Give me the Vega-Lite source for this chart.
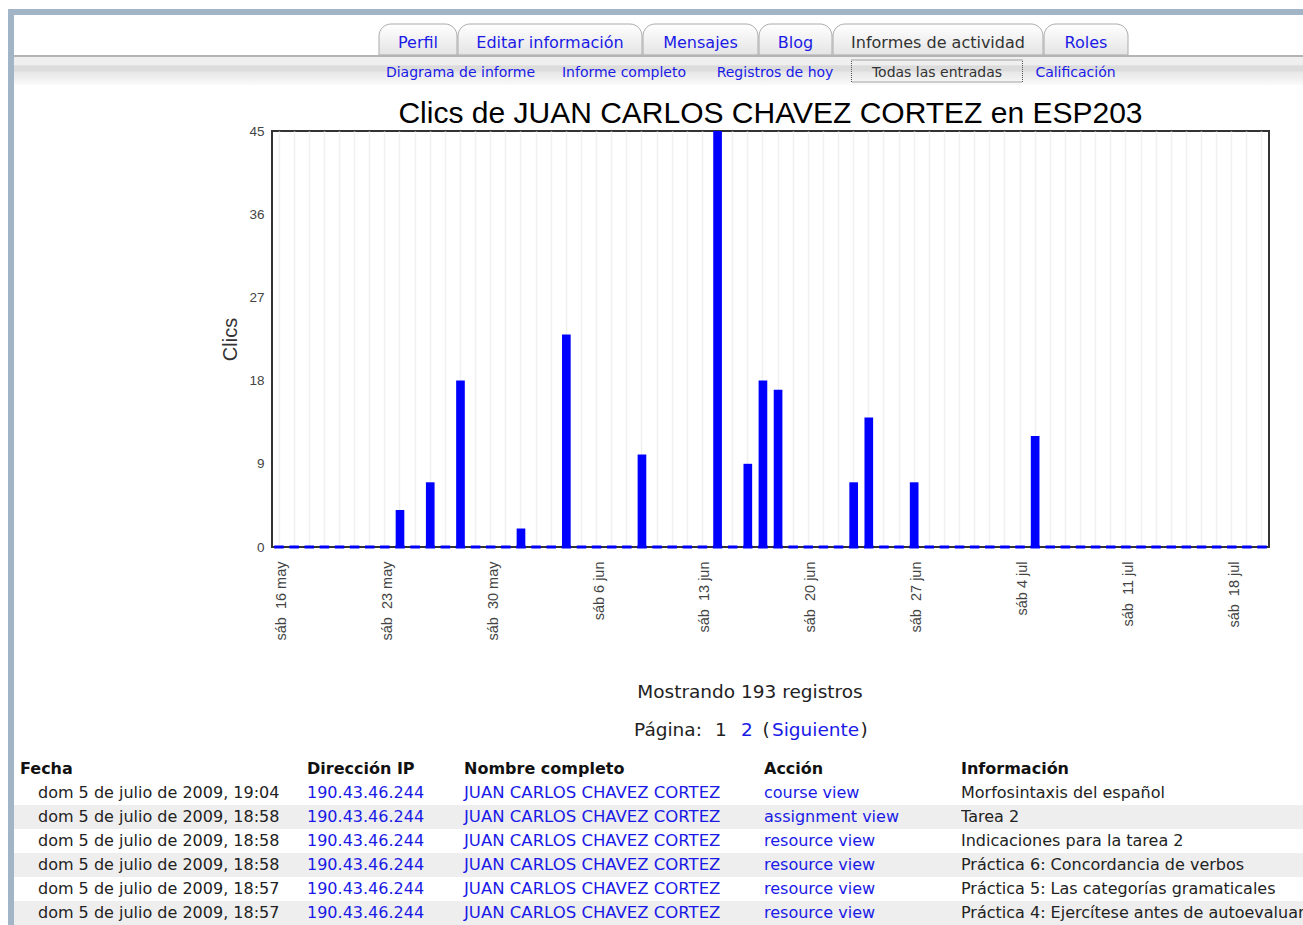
{
  "$schema": "https://vega.github.io/schema/vega-lite/v6.json",
  "padding": {"left": 8, "top": 9, "right": 0, "bottom": 0},
  "background": "white",
  "config": {"view": {"stroke": null}, "concat": {"spacing": 0}, "font": "DejaVu Sans"},
  "datasets": {
    "clics": [
      {"dia": "2009-05-16", "clics": 0}, {"dia": "2009-05-17", "clics": 0}, {"dia": "2009-05-18", "clics": 0}, {"dia": "2009-05-19", "clics": 0},
      {"dia": "2009-05-20", "clics": 0}, {"dia": "2009-05-21", "clics": 0}, {"dia": "2009-05-22", "clics": 0}, {"dia": "2009-05-23", "clics": 0},
      {"dia": "2009-05-24", "clics": 4}, {"dia": "2009-05-25", "clics": 0}, {"dia": "2009-05-26", "clics": 7}, {"dia": "2009-05-27", "clics": 0},
      {"dia": "2009-05-28", "clics": 18}, {"dia": "2009-05-29", "clics": 0}, {"dia": "2009-05-30", "clics": 0}, {"dia": "2009-05-31", "clics": 0},
      {"dia": "2009-06-01", "clics": 2}, {"dia": "2009-06-02", "clics": 0}, {"dia": "2009-06-03", "clics": 0}, {"dia": "2009-06-04", "clics": 23},
      {"dia": "2009-06-05", "clics": 0}, {"dia": "2009-06-06", "clics": 0}, {"dia": "2009-06-07", "clics": 0}, {"dia": "2009-06-08", "clics": 0},
      {"dia": "2009-06-09", "clics": 10}, {"dia": "2009-06-10", "clics": 0}, {"dia": "2009-06-11", "clics": 0}, {"dia": "2009-06-12", "clics": 0},
      {"dia": "2009-06-13", "clics": 0}, {"dia": "2009-06-14", "clics": 45}, {"dia": "2009-06-15", "clics": 0}, {"dia": "2009-06-16", "clics": 9},
      {"dia": "2009-06-17", "clics": 18}, {"dia": "2009-06-18", "clics": 17}, {"dia": "2009-06-19", "clics": 0}, {"dia": "2009-06-20", "clics": 0},
      {"dia": "2009-06-21", "clics": 0}, {"dia": "2009-06-22", "clics": 0}, {"dia": "2009-06-23", "clics": 7}, {"dia": "2009-06-24", "clics": 14},
      {"dia": "2009-06-25", "clics": 0}, {"dia": "2009-06-26", "clics": 0}, {"dia": "2009-06-27", "clics": 7}, {"dia": "2009-06-28", "clics": 0},
      {"dia": "2009-06-29", "clics": 0}, {"dia": "2009-06-30", "clics": 0}, {"dia": "2009-07-01", "clics": 0}, {"dia": "2009-07-02", "clics": 0},
      {"dia": "2009-07-03", "clics": 0}, {"dia": "2009-07-04", "clics": 0}, {"dia": "2009-07-05", "clics": 12}, {"dia": "2009-07-06", "clics": 0},
      {"dia": "2009-07-07", "clics": 0}, {"dia": "2009-07-08", "clics": 0}, {"dia": "2009-07-09", "clics": 0}, {"dia": "2009-07-10", "clics": 0},
      {"dia": "2009-07-11", "clics": 0}, {"dia": "2009-07-12", "clics": 0}, {"dia": "2009-07-13", "clics": 0}, {"dia": "2009-07-14", "clics": 0},
      {"dia": "2009-07-15", "clics": 0}, {"dia": "2009-07-16", "clics": 0}, {"dia": "2009-07-17", "clics": 0}, {"dia": "2009-07-18", "clics": 0},
      {"dia": "2009-07-19", "clics": 0}, {"dia": "2009-07-20", "clics": 0}
    ],
    "registros": [
      {"fila": 1, "fecha": "dom 5 de julio de 2009, 19:04", "ip": "190.43.46.244", "nombre": "JUAN CARLOS CHAVEZ CORTEZ", "accion": "course view", "info": "Morfosintaxis del español"},
      {"fila": 2, "fecha": "dom 5 de julio de 2009, 18:58", "ip": "190.43.46.244", "nombre": "JUAN CARLOS CHAVEZ CORTEZ", "accion": "assignment view", "info": "Tarea 2"},
      {"fila": 3, "fecha": "dom 5 de julio de 2009, 18:58", "ip": "190.43.46.244", "nombre": "JUAN CARLOS CHAVEZ CORTEZ", "accion": "resource view", "info": "Indicaciones para la tarea 2"},
      {"fila": 4, "fecha": "dom 5 de julio de 2009, 18:58", "ip": "190.43.46.244", "nombre": "JUAN CARLOS CHAVEZ CORTEZ", "accion": "resource view", "info": "Práctica 6: Concordancia de verbos"},
      {"fila": 5, "fecha": "dom 5 de julio de 2009, 18:57", "ip": "190.43.46.244", "nombre": "JUAN CARLOS CHAVEZ CORTEZ", "accion": "resource view", "info": "Práctica 5: Las categorías gramaticales"},
      {"fila": 6, "fecha": "dom 5 de julio de 2009, 18:57", "ip": "190.43.46.244", "nombre": "JUAN CARLOS CHAVEZ CORTEZ", "accion": "resource view", "info": "Práctica 4: Ejercítese antes de autoevaluarte"}
    ]
  },
  "spacing": 0,
  "bounds": "flush",
  "hconcat": [
    {"width": 6, "height": 916, "data": {"values": [{"marco": "borde"}]}, "mark": {"type": "rect", "color": "#a2b5c6"}, "encoding": {}},
    {
      "spacing": 0,
      "bounds": "flush",
      "vconcat": [
        {"width": 1289, "height": 6, "data": {"values": [{"marco": "borde"}]}, "mark": {"type": "rect", "color": "#a2b5c6"}, "encoding": {}},
        {"width": 1289, "height": 9, "data": {"values": [{"t": ""}]}, "mark": "text", "encoding": {"text": {"value": ""}}},
        {
          "spacing": 1,
          "bounds": "flush",
          "hconcat": [
            {"width": 364, "height": 31, "data": {"values": [{"t": ""}]}, "mark": "text", "encoding": {"text": {"value": ""}}},
            {"width": 78, "height": 31, "data": {"values": [{"pestana": "Perfil"}]},
             "layer": [
               {"mark": {"type": "rect", "fill": {"gradient": "linear", "x1": 0, "y1": 0, "x2": 0, "y2": 1, "stops": [{"offset": 0, "color": "#ffffff"}, {"offset": 1, "color": "#e4e4e4"}]}, "stroke": "#aaaaaa", "strokeWidth": 1, "cornerRadiusTopLeft": 12, "cornerRadiusTopRight": 12}, "encoding": {}},
               {"mark": {"type": "text", "font": "DejaVu Sans", "fontSize": 16, "color": "#1a1ae6", "dy": 3}, "encoding": {"text": {"field": "pestana"}}}
             ]},
            {"width": 184, "height": 31, "data": {"values": [{"pestana": "Editar información"}]},
             "layer": [
               {"mark": {"type": "rect", "fill": {"gradient": "linear", "x1": 0, "y1": 0, "x2": 0, "y2": 1, "stops": [{"offset": 0, "color": "#ffffff"}, {"offset": 1, "color": "#e4e4e4"}]}, "stroke": "#aaaaaa", "strokeWidth": 1, "cornerRadiusTopLeft": 12, "cornerRadiusTopRight": 12}, "encoding": {}},
               {"mark": {"type": "text", "font": "DejaVu Sans", "fontSize": 16, "color": "#1a1ae6", "dy": 3}, "encoding": {"text": {"field": "pestana"}}}
             ]},
            {"width": 115, "height": 31, "data": {"values": [{"pestana": "Mensajes"}]},
             "layer": [
               {"mark": {"type": "rect", "fill": {"gradient": "linear", "x1": 0, "y1": 0, "x2": 0, "y2": 1, "stops": [{"offset": 0, "color": "#ffffff"}, {"offset": 1, "color": "#e4e4e4"}]}, "stroke": "#aaaaaa", "strokeWidth": 1, "cornerRadiusTopLeft": 12, "cornerRadiusTopRight": 12}, "encoding": {}},
               {"mark": {"type": "text", "font": "DejaVu Sans", "fontSize": 16, "color": "#1a1ae6", "dy": 3}, "encoding": {"text": {"field": "pestana"}}}
             ]},
            {"width": 73, "height": 31, "data": {"values": [{"pestana": "Blog"}]},
             "layer": [
               {"mark": {"type": "rect", "fill": {"gradient": "linear", "x1": 0, "y1": 0, "x2": 0, "y2": 1, "stops": [{"offset": 0, "color": "#ffffff"}, {"offset": 1, "color": "#e4e4e4"}]}, "stroke": "#aaaaaa", "strokeWidth": 1, "cornerRadiusTopLeft": 12, "cornerRadiusTopRight": 12}, "encoding": {}},
               {"mark": {"type": "text", "font": "DejaVu Sans", "fontSize": 16, "color": "#1a1ae6", "dy": 3}, "encoding": {"text": {"field": "pestana"}}}
             ]},
            {"width": 210, "height": 31, "data": {"values": [{"pestana": "Informes de actividad"}]},
             "layer": [
               {"mark": {"type": "rect", "fill": {"gradient": "linear", "x1": 0, "y1": 0, "x2": 0, "y2": 1, "stops": [{"offset": 0, "color": "#ffffff"}, {"offset": 1, "color": "#e4e4e4"}]}, "stroke": "#aaaaaa", "strokeWidth": 1, "cornerRadiusTopLeft": 12, "cornerRadiusTopRight": 12}, "encoding": {}},
               {"mark": {"type": "text", "font": "DejaVu Sans", "fontSize": 16, "color": "#333333", "dy": 3}, "encoding": {"text": {"field": "pestana"}}}
             ]},
            {"width": 84, "height": 31, "data": {"values": [{"pestana": "Roles"}]},
             "layer": [
               {"mark": {"type": "rect", "fill": {"gradient": "linear", "x1": 0, "y1": 0, "x2": 0, "y2": 1, "stops": [{"offset": 0, "color": "#ffffff"}, {"offset": 1, "color": "#e4e4e4"}]}, "stroke": "#aaaaaa", "strokeWidth": 1, "cornerRadiusTopLeft": 12, "cornerRadiusTopRight": 12}, "encoding": {}},
               {"mark": {"type": "text", "font": "DejaVu Sans", "fontSize": 16, "color": "#1a1ae6", "dy": 3}, "encoding": {"text": {"field": "pestana"}}}
             ]}
          ]
        },
        {"width": 1289, "height": 31, "data": {"values": [{"t": ""}]}, "mark": "text", "encoding": {"text": {"value": ""}}},
        {"width": 1289, "height": 2, "data": {"values": [{"linea": "borde"}]}, "mark": {"type": "rect", "color": "#b4b4b4"}, "encoding": {}},
        {
          "spacing": 0,
          "bounds": "flush",
          "hconcat": [
            {"width": 364, "height": 28, "data": {"values": [{"sub": ""}]},
             "mark": {"type": "rect", "fill": {"gradient": "linear", "x1": 0, "y1": 0, "x2": 0, "y2": 1, "stops": [{"offset": 0, "color": "#efefef"}, {"offset": 0.27, "color": "#efefef"}, {"offset": 0.32, "color": "#dcdcdc"}, {"offset": 0.48, "color": "#dcdcdc"}, {"offset": 0.55, "color": "#e8e8e8"}, {"offset": 0.75, "color": "#efefef"}, {"offset": 1, "color": "#fbfbfb"}]}}, "encoding": {}},
            {"width": 165, "height": 28, "data": {"values": [{"sub": "Diagrama de informe"}]},
             "layer": [
               {"mark": {"type": "rect", "fill": {"gradient": "linear", "x1": 0, "y1": 0, "x2": 0, "y2": 1, "stops": [{"offset": 0, "color": "#efefef"}, {"offset": 0.27, "color": "#efefef"}, {"offset": 0.32, "color": "#dcdcdc"}, {"offset": 0.48, "color": "#dcdcdc"}, {"offset": 0.55, "color": "#e8e8e8"}, {"offset": 0.75, "color": "#efefef"}, {"offset": 1, "color": "#fbfbfb"}]}}, "encoding": {}},
               {"mark": {"type": "text", "font": "DejaVu Sans", "fontSize": 14, "color": "#1a1ae6", "dy": 2}, "encoding": {"text": {"field": "sub"}}}
             ]},
            {"width": 162, "height": 28, "data": {"values": [{"sub": "Informe completo"}]},
             "layer": [
               {"mark": {"type": "rect", "fill": {"gradient": "linear", "x1": 0, "y1": 0, "x2": 0, "y2": 1, "stops": [{"offset": 0, "color": "#efefef"}, {"offset": 0.27, "color": "#efefef"}, {"offset": 0.32, "color": "#dcdcdc"}, {"offset": 0.48, "color": "#dcdcdc"}, {"offset": 0.55, "color": "#e8e8e8"}, {"offset": 0.75, "color": "#efefef"}, {"offset": 1, "color": "#fbfbfb"}]}}, "encoding": {}},
               {"mark": {"type": "text", "font": "DejaVu Sans", "fontSize": 14, "color": "#1a1ae6", "dy": 2}, "encoding": {"text": {"field": "sub"}}}
             ]},
            {"width": 140, "height": 28, "data": {"values": [{"sub": "Registros de hoy"}]},
             "layer": [
               {"mark": {"type": "rect", "fill": {"gradient": "linear", "x1": 0, "y1": 0, "x2": 0, "y2": 1, "stops": [{"offset": 0, "color": "#efefef"}, {"offset": 0.27, "color": "#efefef"}, {"offset": 0.32, "color": "#dcdcdc"}, {"offset": 0.48, "color": "#dcdcdc"}, {"offset": 0.55, "color": "#e8e8e8"}, {"offset": 0.75, "color": "#efefef"}, {"offset": 1, "color": "#fbfbfb"}]}}, "encoding": {}},
               {"mark": {"type": "text", "font": "DejaVu Sans", "fontSize": 14, "color": "#1a1ae6", "dy": 2}, "encoding": {"text": {"field": "sub"}}}
             ]},
            {"width": 184, "height": 28, "data": {"values": [{"sub": "Todas las entradas"}]},
             "layer": [
               {"mark": {"type": "rect", "fill": {"gradient": "linear", "x1": 0, "y1": 0, "x2": 0, "y2": 1, "stops": [{"offset": 0, "color": "#efefef"}, {"offset": 0.27, "color": "#efefef"}, {"offset": 0.32, "color": "#dcdcdc"}, {"offset": 0.48, "color": "#dcdcdc"}, {"offset": 0.55, "color": "#e8e8e8"}, {"offset": 0.75, "color": "#efefef"}, {"offset": 1, "color": "#fbfbfb"}]}}, "encoding": {}},
               {"mark": {"type": "rect", "fill": null, "stroke": "#555555", "strokeWidth": 1, "strokeDash": [1, 1]},
                "encoding": {
                  "x": {"datum": "caja", "type": "nominal", "scale": {"paddingInner": 0, "paddingOuter": 0.038}, "axis": null},
                  "y": {"datum": "caja", "type": "nominal", "scale": {"paddingInner": 0, "paddingOuter": 0.136}, "axis": null}
                }},
               {"mark": {"type": "text", "font": "DejaVu Sans", "fontSize": 14, "color": "#333333", "dy": 2}, "encoding": {"text": {"field": "sub"}}}
             ]},
            {"width": 93, "height": 28, "data": {"values": [{"sub": "Calificación"}]},
             "layer": [
               {"mark": {"type": "rect", "fill": {"gradient": "linear", "x1": 0, "y1": 0, "x2": 0, "y2": 1, "stops": [{"offset": 0, "color": "#efefef"}, {"offset": 0.27, "color": "#efefef"}, {"offset": 0.32, "color": "#dcdcdc"}, {"offset": 0.48, "color": "#dcdcdc"}, {"offset": 0.55, "color": "#e8e8e8"}, {"offset": 0.75, "color": "#efefef"}, {"offset": 1, "color": "#fbfbfb"}]}}, "encoding": {}},
               {"mark": {"type": "text", "font": "DejaVu Sans", "fontSize": 14, "color": "#1a1ae6", "dy": 2}, "encoding": {"text": {"field": "sub"}}}
             ]},
            {"width": 181, "height": 28, "data": {"values": [{"sub": ""}]},
             "mark": {"type": "rect", "fill": {"gradient": "linear", "x1": 0, "y1": 0, "x2": 0, "y2": 1, "stops": [{"offset": 0, "color": "#efefef"}, {"offset": 0.27, "color": "#efefef"}, {"offset": 0.32, "color": "#dcdcdc"}, {"offset": 0.48, "color": "#dcdcdc"}, {"offset": 0.55, "color": "#e8e8e8"}, {"offset": 0.75, "color": "#efefef"}, {"offset": 1, "color": "#fbfbfb"}]}}, "encoding": {}}
          ]
        },
        {"width": 1289, "height": 74, "data": {"values": [{"t": ""}]}, "mark": "text", "encoding": {"text": {"value": ""}}},
        {
          "spacing": 0,
          "bounds": "flush",
          "hconcat": [
            {"width": 258, "height": 416, "data": {"values": [{"t": ""}]}, "mark": "text", "encoding": {"text": {"value": ""}}},
            {
              "width": 997,
              "height": 416,
              "data": {"name": "clics"},
              "view": {"stroke": "#333333", "strokeWidth": 2},
              "title": {"text": "Clics de JUAN CARLOS CHAVEZ CORTEZ en ESP203", "font": "Liberation Sans", "fontSize": 30, "fontWeight": "normal", "color": "#000000", "anchor": "middle", "baseline": "alphabetic", "offset": -29},
              "encoding": {
                "x": {
                  "field": "dia", "type": "ordinal", "title": null,
                  "scale": {"paddingInner": 0.427, "paddingOuter": 0.177},
                  "axis": {
                    "labelAngle": -90,
                    "labelExpr": "utcday(toDate(datum.value)) == 6 ? 'sáb' + (utcdate(toDate(datum.value)) > 9 ? '\u00a0\u00a0' : ' ') + utcdate(toDate(datum.value)) + ' ' + ['ene','feb','mar','abr','may','jun','jul','ago','sep','oct','nov','dic'][utcmonth(toDate(datum.value))] : ''",
                    "labelFont": "Liberation Sans", "labelFontSize": 14.5, "labelColor": "#444444",
                    "labelPadding": 14, "labelOffset": 3, "ticks": false, "tickSize": 0, "domain": false,
                    "grid": true, "gridColor": "#f0f0f0", "gridWidth": 1.5, "bandPosition": 0.5,
                    "labelOverlap": false, "labelBound": false
                  }
                }
              },
              "layer": [
                {"mark": {"type": "tick", "color": "#0000ff", "thickness": 3, "size": 9.5, "opacity": 1},
                 "encoding": {"y": {"datum": 0, "type": "quantitative", "title": "Clics"}}},
                {"mark": {"type": "bar", "color": "#0000ff", "opacity": 1},
                 "encoding": {"y": {"field": "clics", "type": "quantitative", "title": "Clics",
                   "scale": {"domain": [0, 45], "nice": false},
                   "axis": {"values": [0, 9, 18, 27, 36, 45], "titleFont": "Liberation Sans", "titleFontSize": 20, "titleFontWeight": "normal", "titleColor": "#333333", "titlePadding": 8,
                     "labelFont": "Liberation Sans", "labelFontSize": 13.5, "labelColor": "#444444", "labelPadding": 8, "ticks": false, "tickSize": 0, "domain": false,
                     "gridColor": "#f0f0f0", "gridWidth": 1.5}}}}
              ]
            }
          ]
        },
        {"width": 1289, "height": 545, "data": {"values": [{"t": ""}]}, "mark": "text", "encoding": {"text": {"value": ""}}},
        {
          "spacing": 0,
          "bounds": "flush",
          "hconcat": [
            {"width": 558, "height": 30, "data": {"values": [{"t": ""}]}, "mark": "text", "encoding": {"text": {"value": ""}}},
            {"width": 356, "height": 30, "data": {"values": [{"texto": "Mostrando 193 registros"}]}, "mark": {"type": "text", "font": "DejaVu Sans", "fontSize": 18.5, "color": "#222222", "dy": 1}, "encoding": {"text": {"field": "texto"}}}
          ]
        },
        {"width": 1289, "height": 38, "data": {"values": [{"t": ""}]}, "mark": "text", "encoding": {"text": {"value": ""}}},
        {
          "spacing": 0,
          "bounds": "flush",
          "hconcat": [
            {"width": 616, "height": 30, "data": {"values": [{"t": ""}]}, "mark": "text", "encoding": {"text": {"value": ""}}},
            {"width": 76, "height": 30, "data": {"values": [{"texto": "Página:"}]}, "mark": {"type": "text", "font": "DejaVu Sans", "fontSize": 18.5, "color": "#222222", "dy": 1}, "encoding": {"text": {"field": "texto"}}},
            {"width": 30, "height": 30, "data": {"values": [{"texto": "1"}]}, "mark": {"type": "text", "font": "DejaVu Sans", "fontSize": 18.5, "color": "#222222", "dy": 1}, "encoding": {"text": {"field": "texto"}}},
            {"width": 22, "height": 30, "data": {"values": [{"texto": "2"}]}, "mark": {"type": "text", "font": "DejaVu Sans", "fontSize": 18.5, "color": "#1a1ae6", "dy": 1}, "encoding": {"text": {"field": "texto"}}},
            {"width": 16, "height": 30, "data": {"values": [{"texto": "("}]}, "mark": {"type": "text", "font": "DejaVu Sans", "fontSize": 18.5, "color": "#222222", "dy": 1}, "encoding": {"text": {"field": "texto"}}},
            {"width": 83, "height": 30, "data": {"values": [{"texto": "Siguiente"}]}, "mark": {"type": "text", "font": "DejaVu Sans", "fontSize": 18.5, "color": "#1a1ae6", "dy": 1}, "encoding": {"text": {"field": "texto"}}},
            {"width": 14, "height": 30, "data": {"values": [{"texto": ")"}]}, "mark": {"type": "text", "font": "DejaVu Sans", "fontSize": 18.5, "color": "#222222", "dy": 1}, "encoding": {"text": {"field": "texto"}}}
          ]
        },
        {"width": 1289, "height": 43, "data": {"values": [{"t": ""}]}, "mark": "text", "encoding": {"text": {"value": ""}}},
        {
          "spacing": 0,
          "bounds": "flush",
          "hconcat": [
            {"width": 293, "height": 168,
             "layer": [
               {"data": {"name": "registros"}, "transform": [{"filter": "datum.fila % 2 == 0"}], "mark": {"type": "rect", "color": "#eeeeee"},
                "encoding": {"y": {"field": "fila", "type": "ordinal", "scale": {"domain": [0, 1, 2, 3, 4, 5, 6], "paddingInner": 0, "paddingOuter": 0}, "axis": null}}},
               {"data": {"values": [{"fila": 0, "encabezado": "Fecha"}]}, "mark": {"type": "text", "align": "left", "font": "DejaVu Sans", "fontWeight": "bold", "fontSize": 16, "color": "#111111", "dx": -140.5},
                "encoding": {"y": {"field": "fila", "type": "ordinal", "axis": null}, "text": {"field": "encabezado"}}},
               {"data": {"name": "registros"}, "mark": {"type": "text", "align": "left", "font": "DejaVu Sans", "fontSize": 16, "color": "#222222", "dx": -122.5},
                "encoding": {"y": {"field": "fila", "type": "ordinal", "axis": null}, "text": {"field": "fecha"}}}
             ]},
            {"width": 157, "height": 168,
             "layer": [
               {"data": {"name": "registros"}, "transform": [{"filter": "datum.fila % 2 == 0"}], "mark": {"type": "rect", "color": "#eeeeee"},
                "encoding": {"y": {"field": "fila", "type": "ordinal", "scale": {"domain": [0, 1, 2, 3, 4, 5, 6], "paddingInner": 0, "paddingOuter": 0}, "axis": null}}},
               {"data": {"values": [{"fila": 0, "encabezado": "Dirección IP"}]}, "mark": {"type": "text", "align": "left", "font": "DejaVu Sans", "fontWeight": "bold", "fontSize": 16, "color": "#111111", "dx": -78.5},
                "encoding": {"y": {"field": "fila", "type": "ordinal", "axis": null}, "text": {"field": "encabezado"}}},
               {"data": {"name": "registros"}, "mark": {"type": "text", "align": "left", "font": "DejaVu Sans", "fontSize": 16, "color": "#1a1ae6", "dx": -78.5},
                "encoding": {"y": {"field": "fila", "type": "ordinal", "axis": null}, "text": {"field": "ip"}}}
             ]},
            {"width": 300, "height": 168,
             "layer": [
               {"data": {"name": "registros"}, "transform": [{"filter": "datum.fila % 2 == 0"}], "mark": {"type": "rect", "color": "#eeeeee"},
                "encoding": {"y": {"field": "fila", "type": "ordinal", "scale": {"domain": [0, 1, 2, 3, 4, 5, 6], "paddingInner": 0, "paddingOuter": 0}, "axis": null}}},
               {"data": {"values": [{"fila": 0, "encabezado": "Nombre completo"}]}, "mark": {"type": "text", "align": "left", "font": "DejaVu Sans", "fontWeight": "bold", "fontSize": 16, "color": "#111111", "dx": -150},
                "encoding": {"y": {"field": "fila", "type": "ordinal", "axis": null}, "text": {"field": "encabezado"}}},
               {"data": {"name": "registros"}, "mark": {"type": "text", "align": "left", "font": "DejaVu Sans", "fontSize": 16.5, "color": "#1a1ae6", "dx": -150},
                "encoding": {"y": {"field": "fila", "type": "ordinal", "axis": null}, "text": {"field": "nombre"}}}
             ]},
            {"width": 197, "height": 168,
             "layer": [
               {"data": {"name": "registros"}, "transform": [{"filter": "datum.fila % 2 == 0"}], "mark": {"type": "rect", "color": "#eeeeee"},
                "encoding": {"y": {"field": "fila", "type": "ordinal", "scale": {"domain": [0, 1, 2, 3, 4, 5, 6], "paddingInner": 0, "paddingOuter": 0}, "axis": null}}},
               {"data": {"values": [{"fila": 0, "encabezado": "Acción"}]}, "mark": {"type": "text", "align": "left", "font": "DejaVu Sans", "fontWeight": "bold", "fontSize": 16, "color": "#111111", "dx": -98.5},
                "encoding": {"y": {"field": "fila", "type": "ordinal", "axis": null}, "text": {"field": "encabezado"}}},
               {"data": {"name": "registros"}, "mark": {"type": "text", "align": "left", "font": "DejaVu Sans", "fontSize": 16, "color": "#1a1ae6", "dx": -98.5},
                "encoding": {"y": {"field": "fila", "type": "ordinal", "axis": null}, "text": {"field": "accion"}}}
             ]},
            {"width": 342, "height": 168,
             "layer": [
               {"data": {"name": "registros"}, "transform": [{"filter": "datum.fila % 2 == 0"}], "mark": {"type": "rect", "color": "#eeeeee"},
                "encoding": {"y": {"field": "fila", "type": "ordinal", "scale": {"domain": [0, 1, 2, 3, 4, 5, 6], "paddingInner": 0, "paddingOuter": 0}, "axis": null}}},
               {"data": {"values": [{"fila": 0, "encabezado": "Información"}]}, "mark": {"type": "text", "align": "left", "font": "DejaVu Sans", "fontWeight": "bold", "fontSize": 16, "color": "#111111", "dx": -171},
                "encoding": {"y": {"field": "fila", "type": "ordinal", "axis": null}, "text": {"field": "encabezado"}}},
               {"data": {"name": "registros"}, "mark": {"type": "text", "align": "left", "font": "DejaVu Sans", "fontSize": 16, "color": "#222222", "dx": -171, "clip": true},
                "encoding": {"y": {"field": "fila", "type": "ordinal", "axis": null}, "text": {"field": "info"}}}
             ]}
          ]
        },
        {"width": 1289, "height": 168, "data": {"values": [{"t": ""}]}, "mark": "text", "encoding": {"text": {"value": ""}}}
      ]
    }
  ]
}
